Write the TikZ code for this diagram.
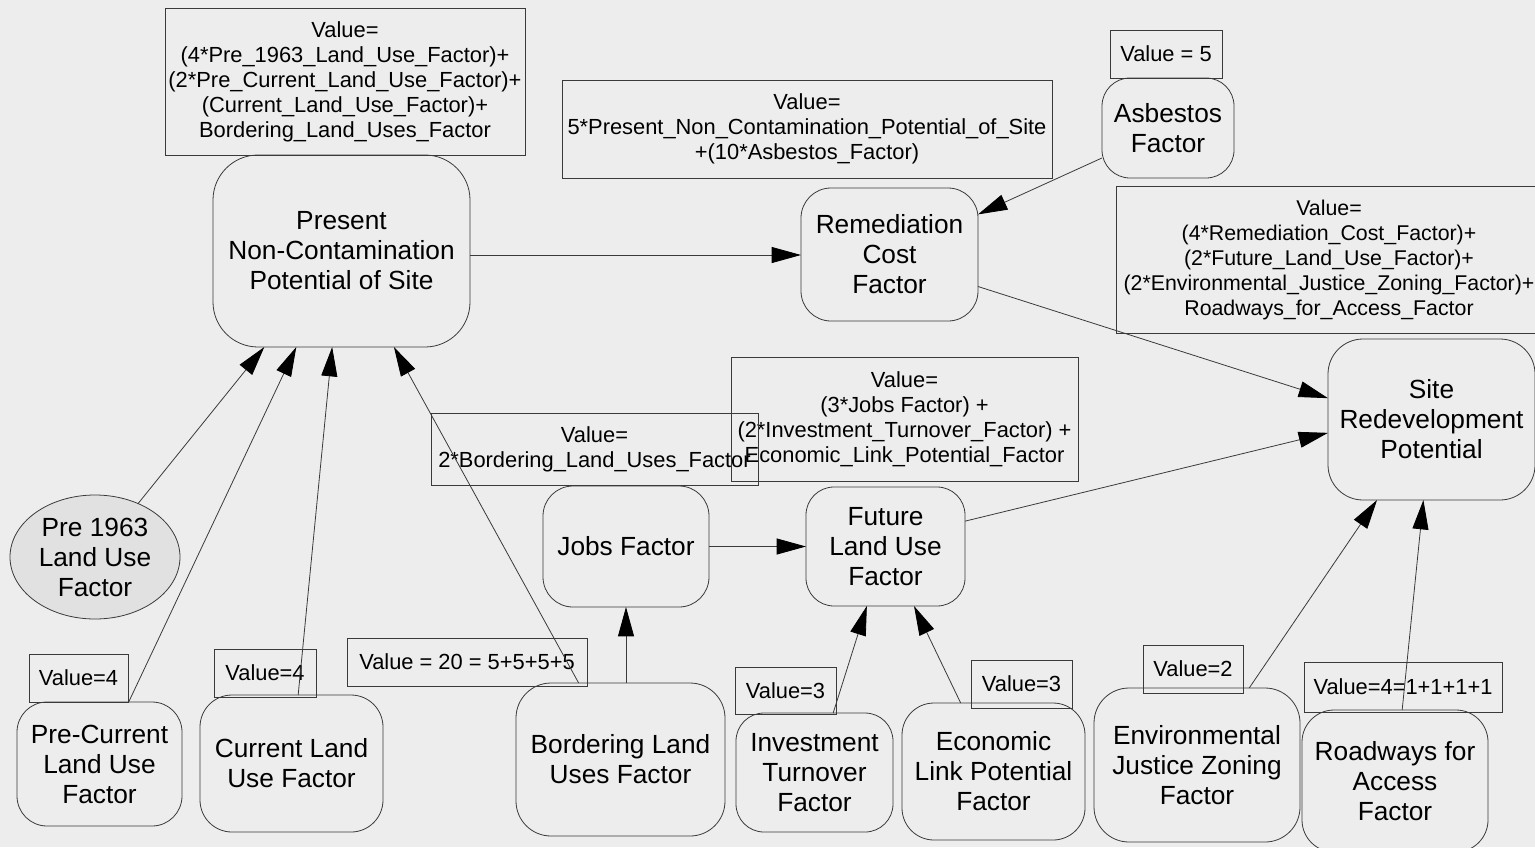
\documentclass[tikz,border=0pt]{standalone}
\usepackage{fontspec}
\setmainfont{Liberation Sans}
\usetikzlibrary{arrows.meta,shapes.geometric}
\definecolor{paper}{HTML}{EDEDED}
\definecolor{ink}{HTML}{3A3A3A}
\definecolor{ovalfill}{HTML}{E1E1E1}
\begin{document}
\begin{tikzpicture}[x=0.75pt,y=-0.75pt,
  every node/.style={align=center,inner sep=0pt,outer sep=0pt},
  rbox/.style n args={3}{draw=ink,line width=0.6pt,fill=paper,
    minimum width=#1*0.75pt,minimum height=#2*0.75pt,rounded corners=#3*0.75pt,
    font=\fontsize{19.7}{22.5}\selectfont},
  vbox/.style 2 args={draw=ink,line width=0.6pt,
    minimum width=#1*0.75pt,minimum height=#2*0.75pt,
    font=\fontsize{16.4}{18.75}\selectfont},
  arr/.style={draw=ink,line width=0.6pt,-{Triangle[length=22pt,width=12pt,color=black]}}]

% page
\fill[paper] (0,0) rectangle (1535,847);
\useasboundingbox (0,0) rectangle (1535,847);

% main factor nodes
\node[rbox={257}{192}{45}] (present) at (341.5,251)
  {Present\\Non-Contamination\\Potential of Site};
\node[rbox={177}{133}{30}] (remed) at (889.5,254.5) {Remediation\\Cost\\Factor};
\node[rbox={132}{100}{28}] (asb) at (1168,128) {Asbestos\\Factor};
\node[rbox={207}{161}{35}] (site) at (1431.5,419.5) {Site\\Redevelopment\\Potential};
\node[rbox={166}{121}{30}] (jobs) at (626,546.5) {Jobs Factor};
\node[rbox={159}{119}{28}] (future) at (885.5,546.5) {Future\\Land Use\\Factor};
\node[ellipse,draw=ink,line width=0.6pt,fill=ovalfill,minimum width=170*0.75pt,
  minimum height=124*0.75pt,font=\fontsize{19.7}{22.5}\selectfont] (pre63) at (95,557)
  {Pre 1963\\Land Use\\Factor};

% input factor nodes
\node[rbox={165}{124}{30}] (precur) at (99.5,764) {Pre-Current\\Land Use\\Factor};
\node[rbox={183}{137}{32}] (cur) at (291.5,763.5) {Current Land\\Use Factor};
\node[rbox={209}{153}{35}] (bord) at (620.5,759.5) {Bordering Land\\Uses Factor};
\node[rbox={157}{119}{28}] (invest) at (814.5,772.5) {Investment\\Turnover\\Factor};
\node[rbox={183}{137}{32}] (econ) at (993.5,771.5) {Economic\\Link Potential\\Factor};
\node[rbox={206}{154}{35}] (envj) at (1197,765) {Environmental\\Justice Zoning\\Factor};
\node[rbox={186}{142}{32}] (road) at (1395,781) {Roadways for\\Access\\Factor};

% value and formula boxes
\node[vbox={360}{147}] (fpres) at (345,81.5)
  {Value=\\(4*Pre\_1963\_Land\_Use\_Factor)+\\(2*Pre\_Current\_Land\_Use\_Factor)+\\(Current\_Land\_Use\_Factor)+\\Bordering\_Land\_Uses\_Factor};
\node[vbox={490}{98}] (fremed) at (807,129)
  {Value=\\5*Present\_Non\_Contamination\_Potential\_of\_Site\\+(10*Asbestos\_Factor)};
\node[vbox={112}{48}] (vasb) at (1166,54) {Value = 5};
\node[vbox={426}{147},font=\fontsize{16}{18.75}\selectfont] (fsite) at (1329,259.5)
  {Value=\\(4*Remediation\_Cost\_Factor)+\\(2*Future\_Land\_Use\_Factor)+\\(2*Environmental\_Justice\_Zoning\_Factor)+\\Roadways\_for\_Access\_Factor};
\node[vbox={347}{124}] (ffut) at (904.5,419)
  {Value=\\(3*Jobs Factor) +\\(2*Investment\_Turnover\_Factor) +\\Economic\_Link\_Potential\_Factor};
\node[vbox={327}{72}] (fjobs) at (594.5,449)
  {Value=\\2*Bordering\_Land\_Uses\_Factor};
\node[vbox={99}{48}] (vprecur) at (78.5,678) {Value=4};
\node[vbox={102}{48}] (vcur) at (265,673) {Value=4};
\node[vbox={240}{48}] (vbord) at (467,662) {Value = 20 = 5+5+5+5};
\node[vbox={101}{47}] (vinvest) at (785.5,690.5) {Value=3};
\node[vbox={101}{48}] (vecon) at (1021.5,684) {Value=3};
\node[vbox={100}{48}] (venvj) at (1193,669) {Value=2};
\node[vbox={198}{50}] (vroad) at (1403,687) {Value=4=1+1+1+1};

% influence links
\draw[arr] (pre63) -- (present);
\draw[arr] (precur) -- (present);
\draw[arr] (cur) -- (present);
\draw[arr] (bord) -- (present);
\draw[arr] ([yshift=-3pt]present.east) -- ([yshift=-3pt]present.east -| remed.west);
\draw[arr] (asb) -- (remed);
\draw[arr] ([yshift=-24pt]remed.east) -- ([yshift=16pt]site.west);
\draw[arr] (jobs) -- (future);
\draw[arr] (jobs.south |- bord.north) -- (jobs.south);
\draw[arr] (invest) -- (future);
\draw[arr] (econ) -- (future);
\draw[arr] ([yshift=19pt]future.east) -- ([yshift=-10pt]site.west);
\draw[arr] (envj) -- (site);
\draw[arr] (road) -- (site);
\end{tikzpicture}
\end{document}
